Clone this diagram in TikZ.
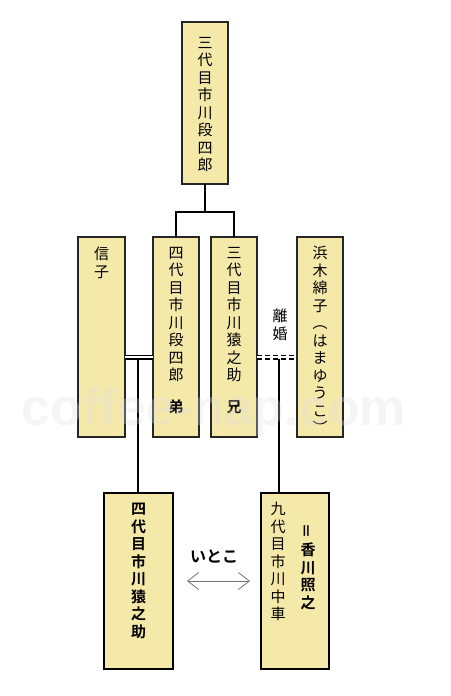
\documentclass[tikz,border=0pt]{standalone}
\usepackage{fontspec}
\usepackage{graphicx}
\usetikzlibrary{arrows.meta}
\newfontfamily\jp{Noto Sans CJK JP}[BoldFont={Noto Sans CJK JP Bold}]
\newfontfamily\wmfont{Liberation Sans}
\definecolor{boxfill}{RGB}{245,233,170}
\definecolor{wmgray}{RGB}{225,225,225}
\begin{document}
\begin{tikzpicture}[x=1pt,y=-1pt,
  box/.style={draw=black!85, line width=1.4pt, fill=boxfill, inner sep=0pt, outer sep=0pt, anchor=north west},
  boxb/.style={box, draw=black, line width=2pt},
  vtext/.style={font=\jp\fontsize{15}{17.5}\selectfont, align=center, inner sep=0pt, anchor=north},
  btext/.style={vtext, font=\jp\bfseries\fontsize{15}{17.5}\selectfont},
  link/.style={draw=black, line width=1.4pt},
  dbl/.style={draw=black, double=white, double distance=2.6pt, line width=1.2pt},
  arr/.style={draw=black!55, line width=0.8pt, {Straight Barb[length=11pt,width=17pt]}-{Straight Barb[length=11pt,width=17pt]}}
]
\useasboundingbox[fill=white] (0,0) rectangle (450,696);

% boxes
\node[box, minimum width=46, minimum height=162] (top) at (182,22) {};
\node[box, minimum width=47, minimum height=200] (nobu) at (78,237) {};
\node[box, minimum width=46, minimum height=200] (dan) at (153,237) {};
\node[box, minimum width=46, minimum height=200] (saru) at (211,237) {};
\node[box, minimum width=46, minimum height=200] (hama) at (297,237) {};
\node[boxb, minimum width=69, minimum height=176] (en4) at (104,493) {};
\node[boxb, minimum width=68, minimum height=176] (chu) at (261,493) {};

% texts
\node[vtext] (t-top) at (205,37) {三\\代\\目\\市\\川\\段\\四\\郎};
\node[vtext] (t-nobu) at (101.5,247) {信\\子};
\node[vtext] (t-dan) at (176,247) {四\\代\\目\\市\\川\\段\\四\\郎};
\node[btext, anchor=center] (t-otouto) at (176,407) {弟};
\node[vtext] (t-saru) at (234,247) {三\\代\\目\\市\\川\\猿\\之\\助};
\node[btext, anchor=center] (t-ani) at (234,407) {兄};
\node[vtext] (t-hama) at (320,246) {浜\\木\\綿\\子\\︵\\は\\ま\\ゆ\\う\\こ\\︶};
\node[btext] (t-en4) at (138.5,503) {四\\代\\目\\市\\川\\猿\\之\\助};
\node[vtext] (t-chu) at (278,502) {九\\代\\目\\市\\川\\中\\車};
\node[btext] (t-teru) at (308,523) {\rotatebox{90}{＝}\\香\\川\\照\\之};
\node[vtext] (t-rikon) at (280,309) {離\\婚};
\node[font=\jp\bfseries\fontsize{16}{18}\selectfont, inner sep=0pt] (t-itoko) at (214,556) {いとこ};

% connectors
\coordinate (br) at (205,212);
\draw[link] (top.south) -- (br);
\draw[link] (dan.north) |- (br) -| (saru.north);
\coordinate (m) at (0,357);
\draw[dbl] (nobu.east |- m) -- (dan.west |- m);
\coordinate (s1) at (138,358.5);
\draw[link] (s1) -- (s1 |- en4.north);
\draw[dbl, dash pattern=on 5pt off 3pt] (saru.east |- m) -- (hama.west |- m);
\coordinate (s2) at (279,358.5);
\draw[link] (s2) -- (s2 |- chu.north);
\coordinate (a1) at (187,581);
\coordinate (a2) at (250,581);
\draw[arr] (a1) -- (a2);

% watermark
\node[font=\wmfont\bfseries\fontsize{52}{60}\selectfont, text=wmgray, opacity=0.3, anchor=base, inner sep=0pt] (wm) at (214,425) {coffee-nap.com};
\end{tikzpicture}
\end{document}
